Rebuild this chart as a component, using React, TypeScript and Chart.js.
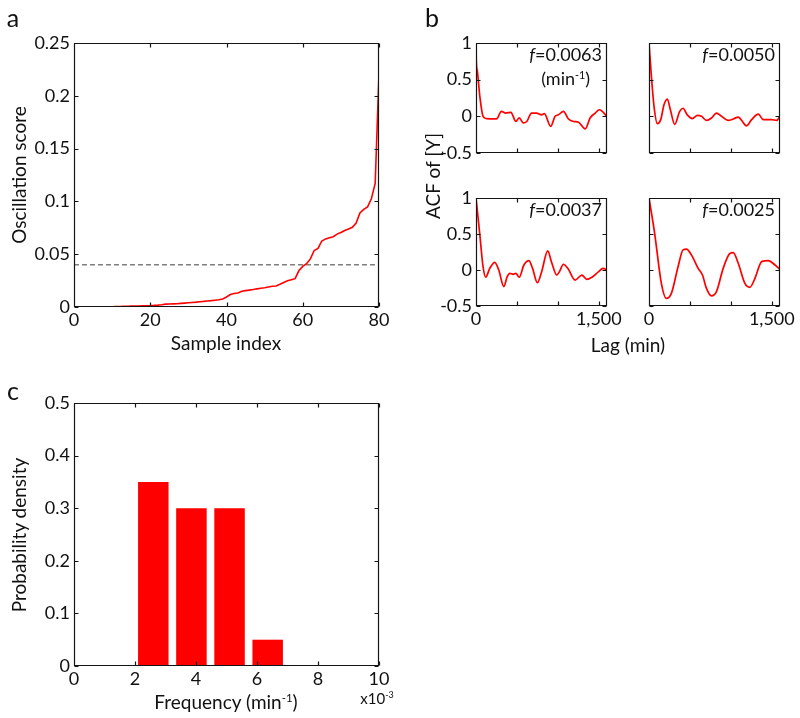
import React, { useEffect, useRef } from 'react';
import { Chart, registerables } from 'chart.js';

Chart.register(...registerables);

const FONT = 'Lato';
const INK = '#111';

// Panel a: oscillation score of each sample, sorted (sample index 0..80)
const oscillationScore = [
  0, 0, 0, 0, 0, 0.0001, 0.0001, 0.0002, 0.0002, 0.0003,
  0.0003, 0.0004, 0.0005, 0.0006, 0.0007, 0.0008, 0.0009, 0.001, 0.0011, 0.0012,
  0.0013, 0.0015, 0.0018, 0.0022, 0.0027, 0.0029, 0.003, 0.0031, 0.0034, 0.0037,
  0.004, 0.0043, 0.0046, 0.005, 0.0053, 0.0057, 0.006, 0.0064, 0.0068, 0.0076,
  0.0095, 0.0118, 0.0128, 0.0133, 0.015, 0.0155, 0.016, 0.0165, 0.0172, 0.0178,
  0.0183, 0.019, 0.0197, 0.0199, 0.0215, 0.0232, 0.0248, 0.0258, 0.0268, 0.0345,
  0.0385, 0.041, 0.0455, 0.0535, 0.0555, 0.0625, 0.0645, 0.0655, 0.0665, 0.069,
  0.0705, 0.0725, 0.0738, 0.0755, 0.0795, 0.089, 0.0925, 0.0948, 0.1025, 0.117,
  0.221,
];
const scoreThreshold = 0.04;
const sampleTicksA = [0, 20, 40, 60, 80];
const scoreTicksA = [0, 0.05, 0.1, 0.15, 0.2, 0.25];

// Panel b: autocorrelation functions
const lag1 = [0, 4, 16, 49, 86, 127, 250, 311, 364, 426, 487, 528, 577, 620, 679, 740, 802, 835, 912, 966, 1006, 1068, 1129, 1191, 1252, 1334, 1395, 1457, 1506, 1600];
const acf1 = [1, 0.74, 0.62, 0.25, 0, -0.03, -0.036, 0.068, 0.045, 0.055, -0.07, -0.02, -0.09, -0.07, 0.045, 0.045, 0.02, 0.036, -0.136, 0, 0.02, 0.068, -0.036, -0.07, -0.08, -0.17, -0.02, 0.045, 0.09, 0];
const lag2 = [0, 29, 61, 102, 143, 184, 224, 261, 314, 375, 416, 465, 530, 592, 641, 702, 763, 824, 886, 967, 1029, 1090, 1131, 1192, 1253, 1335, 1396, 1498, 1559, 1600];
const acf2 = [1, 0.55, 0.14, -0.1, -0.045, 0.16, 0.236, 0.09, -0.11, 0.068, 0.11, 0.023, -0.03, 0.014, 0, -0.055, -0.023, 0.045, 0, -0.055, -0.036, -0.01, -0.055, -0.13, -0.045, 0.03, -0.045, -0.045, -0.055, 0];
const lag3 = [0, 45, 86, 119, 168, 229, 278, 340, 381, 413, 454, 487, 528, 585, 646, 691, 749, 802, 876, 925, 986, 1019, 1068, 1121, 1211, 1293, 1354, 1416, 1498, 1551, 1600];
const acf3 = [1, 0.51, 0.046, -0.1, 0.023, 0.107, 0, -0.23, -0.093, -0.046, -0.06, -0.046, -0.1, 0.07, 0.13, 0.023, -0.176, -0.023, 0.265, 0.1, -0.07, -0.023, 0.08, 0.023, -0.14, -0.07, -0.13, -0.1, -0.023, 0.023, 0];
const lag4 = [0, 69, 151, 212, 273, 355, 416, 457, 518, 600, 653, 702, 763, 824, 906, 988, 1029, 1090, 1171, 1233, 1294, 1376, 1457, 1539, 1600];
const acf4 = [1, 0.51, -0.186, -0.395, -0.325, 0.046, 0.28, 0.29, 0.21, 0.023, -0.07, -0.255, -0.36, -0.3, 0.023, 0.23, 0.24, 0.093, -0.186, -0.24, -0.116, 0.116, 0.13, 0.07, 0.01];
const freqLabels = ['0.0063', '0.0050', '0.0037', '0.0025'];
const lagTicksB = [0, 500, 1000, 1500];
const lagTickLabelsB = ['0', '', '', '1,500'];
const acfTicksB = [-0.5, 0, 0.5, 1];

// Panel c: histogram of frequencies (x10^-3 min^-1)
const freqCenters = [2.6, 3.85, 5.1, 6.35];
const freqDensity = [0.35, 0.3, 0.3, 0.05];
const freqTicksC = [0, 2, 4, 6, 8, 10];
const densityTicksC = [0, 0.1, 0.2, 0.3, 0.4, 0.5];

type Box = { L: number; T: number; R: number; B: number };
type Pad = { l: number; t: number; r: number; b: number };

const boxTicks = {
  id: 'boxTicks',
  afterDraw(chart: any) {
    const { ctx, chartArea: a } = chart;
    const xs = chart.scales.x;
    const ys = chart.scales.y;
    ctx.save();
    ctx.strokeStyle = '#141414';
    ctx.lineWidth = 1.2;
    const l = Math.round(a.left) + 0.5;
    const r = Math.round(a.right) - 0.5;
    const t = Math.round(a.top) + 0.5;
    const b = Math.round(a.bottom) - 0.5;
    const tl = 4;
    ctx.beginPath();
    ctx.rect(l, t, r - l, b - t);
    xs.ticks.forEach((tk: any) => {
      const p = Math.round(xs.getPixelForValue(tk.value)) + 0.5;
      ctx.moveTo(p, b); ctx.lineTo(p, b - tl);
      ctx.moveTo(p, t); ctx.lineTo(p, t + tl);
    });
    ys.ticks.forEach((tk: any) => {
      const p = Math.round(ys.getPixelForValue(tk.value)) + 0.5;
      ctx.moveTo(l, p); ctx.lineTo(l + tl, p);
      ctx.moveTo(r, p); ctx.lineTo(r - tl, p);
    });
    ctx.stroke();
    ctx.restore();
  },
};

const tickFont = { family: FONT, size: 18 };

function scales(o: {
  xMin: number; xMax: number; xTicks: number[]; xCb: (v: number, i: number) => string;
  yMin: number; yMax: number; yTicks: number[]; yCb: (v: number, i: number) => string;
  pad: Pad;
}) {
  return {
    x: {
      type: 'linear', min: o.xMin, max: o.xMax, offset: false,
      afterBuildTicks: (s: any) => { s.ticks = o.xTicks.map((value) => ({ value })); },
      ticks: { autoSkip: false, maxRotation: 0, padding: 2, font: tickFont, color: INK, callback: (v: any, i: number) => o.xCb(Number(v), i) },
      grid: { display: false, drawTicks: false }, border: { display: false },
      afterFit: (s: any) => { s.height = o.pad.b; s.paddingLeft = 0; s.paddingRight = 0; },
    },
    y: {
      type: 'linear', min: o.yMin, max: o.yMax,
      afterBuildTicks: (s: any) => { s.ticks = o.yTicks.map((value) => ({ value })); },
      ticks: { autoSkip: false, padding: 4, font: tickFont, color: INK, callback: (v: any, i: number) => o.yCb(Number(v), i) },
      grid: { display: false, drawTicks: false }, border: { display: false },
      afterFit: (s: any) => { s.width = o.pad.l; s.paddingTop = 0; s.paddingBottom = 0; },
    },
  };
}

function ChartBox({ box, pad, make }: { box: Box; pad: Pad; make: () => any }) {
  const ref = useRef<HTMLCanvasElement | null>(null);
  const w = box.R - box.L + pad.l + pad.r;
  const h = box.B - box.T + pad.t + pad.b;
  useEffect(() => {
    if (!ref.current) return;
    const cfg = make();
    cfg.options.responsive = false;
    cfg.options.animation = false;
    cfg.options.layout = { padding: { left: 0, top: pad.t, right: pad.r, bottom: 0 } };
    cfg.options.plugins = { legend: { display: false }, tooltip: { enabled: false }, title: { display: false } };
    cfg.plugins = [boxTicks];
    const chart = new Chart(ref.current, cfg);
    return () => chart.destroy();
  }, []);
  return (
    <canvas
      ref={ref}
      width={w}
      height={h}
      style={{ position: 'absolute', left: box.L - pad.l, top: box.T - pad.t, width: w, height: h }}
    />
  );
}

function Label({ x, y, size = 19, rotate = false, children }: { x: number; y: number; size?: number; rotate?: boolean; children: React.ReactNode }) {
  return (
    <div
      style={{
        position: 'absolute', left: x, top: y, fontFamily: FONT, fontSize: size, color: INK,
        whiteSpace: 'nowrap', lineHeight: 1,
        transform: `translate(-50%, -50%)${rotate ? ' rotate(-90deg)' : ''}`,
      }}
    >
      {children}
    </div>
  );
}

const supStyle: React.CSSProperties = { fontSize: '0.6em', verticalAlign: '0.6em', lineHeight: 0 };

const fmt = (v: number) => String(+v.toFixed(2));

const boxA: Box = { L: 74, T: 43, R: 379, B: 307 };
const boxC: Box = { L: 74, T: 403, R: 379, B: 666 };
const boxesB: Box[] = [
  { L: 476, T: 43, R: 607, B: 153 },
  { L: 649, T: 43, R: 780, B: 153 },
  { L: 476, T: 198, R: 607, B: 306 },
  { L: 649, T: 198, R: 780, B: 306 },
];
const lagsB = [lag1, lag2, lag3, lag4];
const acfsB = [acf1, acf2, acf3, acf4];

const padBig: Pad = { l: 64, t: 15, r: 30, b: 28 };
const padSmall: Pad = { l: 40, t: 15, r: 30, b: 28 };

export default function App() {
  return (
    <div style={{ position: 'absolute', left: 0, top: 0, width: 800, height: 718, background: '#fff', overflow: 'hidden' }}>
      <ChartBox
        box={boxA}
        pad={padBig}
        make={() => ({
          type: 'line',
          data: {
            datasets: [
              {
                data: oscillationScore.map((y, i) => ({ x: i, y })),
                borderColor: '#ff0000', borderWidth: 1.6, pointRadius: 0, tension: 0, fill: false,
              },
              {
                data: [{ x: sampleTicksA[0], y: scoreThreshold }, { x: sampleTicksA[sampleTicksA.length - 1], y: scoreThreshold }],
                borderColor: '#7f7f7f', borderWidth: 1.3, borderDash: [5, 3], pointRadius: 0, fill: false,
              },
            ],
          },
          options: {
            scales: scales({
              xMin: 0, xMax: 80, xTicks: sampleTicksA, xCb: (v) => String(v),
              yMin: 0, yMax: 0.25, yTicks: scoreTicksA, yCb: fmt, pad: padBig,
            }),
          },
        })}
      />
      {boxesB.map((bx, k) => (
        <ChartBox
          key={k}
          box={bx}
          pad={k % 2 === 0 ? padBig : padSmall}
          make={() => ({
            type: 'line',
            data: {
              datasets: [
                {
                  data: lagsB[k].map((x, i) => ({ x, y: acfsB[k][i] })),
                  borderColor: '#ff0000', borderWidth: 1.7, pointRadius: 0, cubicInterpolationMode: 'monotone', fill: false,
                },
              ],
            },
            options: {
              scales: scales({
                xMin: 0, xMax: 1600, xTicks: lagTicksB,
                xCb: (v, i) => (k >= 2 ? lagTickLabelsB[i] : ''),
                yMin: -0.5, yMax: 1, yTicks: acfTicksB,
                yCb: (v) => (k % 2 === 0 ? fmt(v) : ''),
                pad: k % 2 === 0 ? padBig : padSmall,
              }),
            },
          })}
        />
      ))}
      <ChartBox
        box={boxC}
        pad={padBig}
        make={() => ({
          type: 'bar',
          data: {
            datasets: [
              {
                data: freqCenters.map((x, i) => ({ x, y: freqDensity[i] })),
                backgroundColor: '#ff0000', borderWidth: 0,
                barPercentage: 0.8, categoryPercentage: 1,
              },
            ],
          },
          options: {
            scales: scales({
              xMin: 0, xMax: 10, xTicks: freqTicksC, xCb: (v) => String(v),
              yMin: 0, yMax: 0.5, yTicks: densityTicksC, yCb: fmt, pad: padBig,
            }),
          },
        })}
      />

      {/* panel letters */}
      <Label x={13} y={17} size={25}>a</Label>
      <Label x={432} y={17} size={25}>b</Label>
      <Label x={13} y={390} size={25}>c</Label>

      {/* panel a titles */}
      <Label x={18} y={175} rotate>Oscillation score</Label>
      <Label x={226} y={342}>Sample index</Label>

      {/* panel b titles */}
      <Label x={432} y={176} rotate>ACF of [Y]</Label>
      <Label x={628} y={344}>Lag (min)</Label>
      {boxesB.map((bx, k) => (
        <div
          key={'f' + k}
          style={{
            position: 'absolute', right: 800 - (bx.R - 5), top: bx.T - 1, fontFamily: FONT, fontSize: 18,
            color: INK, textAlign: 'center', lineHeight: '24px', whiteSpace: 'nowrap',
          }}
        >
          <div><i>f</i>={freqLabels[k]}</div>
          {k === 0 && <div>(min<span style={supStyle}>-1</span>)</div>}
        </div>
      ))}

      {/* panel c titles */}
      <Label x={18} y={535} rotate>Probability density</Label>
      <Label x={226} y={701}>Frequency (min<span style={supStyle}>-1</span>)</Label>
      <Label x={377} y={698} size={15}>x10<span style={supStyle}>-3</span></Label>
    </div>
  );
}
